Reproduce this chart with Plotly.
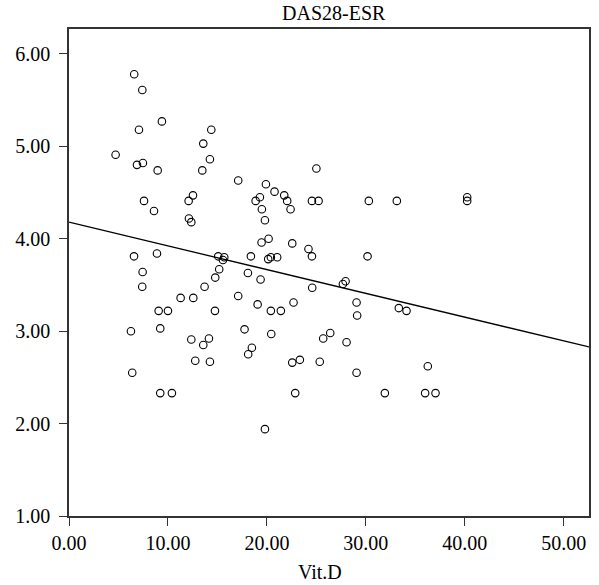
import plotly.graph_objects as go

vit_d = [6.59, 7.41, 9.39, 7.07, 14.38, 4.71, 13.57, 6.87, 7.47, 8.96, 14.24, 13.47, 17.10,
         7.58, 8.59, 12.09, 12.53, 12.12, 12.36, 19.9, 19.29, 18.86, 19.49, 19.8, 20.77, 21.75,
         22.05, 22.39, 24.55, 25.22, 25.0, 20.17, 19.46, 22.56, 24.2, 24.55, 6.57, 8.89, 15.08,
         15.69, 15.56, 15.18, 14.78, 18.38, 20.13, 20.4, 21.04, 18.08, 19.36, 7.44, 7.40, 13.7,
         24.58, 11.28, 12.56, 17.1, 9.06, 10.0, 14.75, 19.06, 20.4, 21.41, 22.69, 6.26, 9.22,
         17.74, 20.44, 12.36, 13.57, 14.14, 18.11, 18.48, 12.76, 14.24, 22.56, 23.33, 25.34,
         6.39, 9.22, 10.40, 22.86, 19.8, 30.3, 33.13, 40.24, 40.24, 30.17, 27.68, 27.95, 29.06,
         29.12, 33.33, 34.11, 26.4, 25.69, 28.05, 29.06, 36.26, 31.92, 35.99, 37.04]
das28 = [5.78, 5.61, 5.27, 5.18, 5.18, 4.91, 5.03, 4.80, 4.82, 4.74, 4.86, 4.74, 4.63,
         4.41, 4.30, 4.41, 4.47, 4.22, 4.18, 4.59, 4.45, 4.41, 4.32, 4.20, 4.51, 4.47,
         4.41, 4.32, 4.41, 4.41, 4.76, 4.00, 3.96, 3.95, 3.89, 3.81, 3.81, 3.84, 3.81,
         3.80, 3.77, 3.67, 3.58, 3.81, 3.78, 3.80, 3.80, 3.63, 3.56, 3.64, 3.48, 3.48,
         3.47, 3.36, 3.36, 3.38, 3.22, 3.22, 3.22, 3.29, 3.22, 3.22, 3.31, 3.00, 3.03,
         3.02, 2.97, 2.91, 2.85, 2.92, 2.75, 2.82, 2.68, 2.67, 2.66, 2.69, 2.67,
         2.55, 2.33, 2.33, 2.33, 1.94, 4.41, 4.41, 4.45, 4.41, 3.81, 3.51, 3.54, 3.31,
         3.17, 3.25, 3.22, 2.98, 2.92, 2.88, 2.55, 2.62, 2.33, 2.33, 2.33]

fit_intercept = 4.18
fit_slope = -0.0257

x_range = [0, 52.55]
y_range = [1, 6.27]
x_ticks = [0, 10, 20, 30, 40, 50]
y_ticks = [1, 2, 3, 4, 5, 6]

FONT = "Liberation Serif"

fig = go.Figure()
fig.add_trace(go.Scatter(
    x=vit_d, y=das28, mode="markers",
    marker=dict(symbol="circle-open", size=7.5, color="black", line=dict(width=1.1, color="black")),
    showlegend=False, hoverinfo="skip"))
fig.add_trace(go.Scatter(
    x=x_range, y=[fit_intercept + fit_slope * v for v in x_range], mode="lines",
    line=dict(color="black", width=1.3), showlegend=False, hoverinfo="skip"))

axis_common = dict(showgrid=False, zeroline=False, showline=True, mirror=True,
                   linecolor="#333333", linewidth=1.5, ticks="outside", ticklen=8,
                   tickwidth=1.2, tickcolor="#333333", tickformat=".2f", automargin=False,
                   tickfont=dict(family=FONT, size=20, color="black"))

fig.update_layout(
    width=599, height=585,
    margin=dict(l=69, r=10, t=29, b=69),
    paper_bgcolor="white", plot_bgcolor="white",
    xaxis=dict(range=x_range, tickvals=x_ticks, **axis_common),
    yaxis=dict(range=y_range, tickvals=y_ticks, ticklabelstandoff=5, **axis_common),
    annotations=[
        dict(text="DAS28-ESR", xref="paper", yref="paper", x=0.5096, y=1.0329,
             xanchor="center", yanchor="middle", showarrow=False,
             font=dict(family=FONT, size=20, color="black")),
        dict(text="Vit.D", xref="paper", yref="paper", x=0.4827, y=-0.116,
             xanchor="center", yanchor="middle", showarrow=False,
             font=dict(family=FONT, size=20, color="black")),
    ],
)

fig.write_html("out.html", config={"displayModeBar": False},
               post_script="document.body.style.margin='0';")
